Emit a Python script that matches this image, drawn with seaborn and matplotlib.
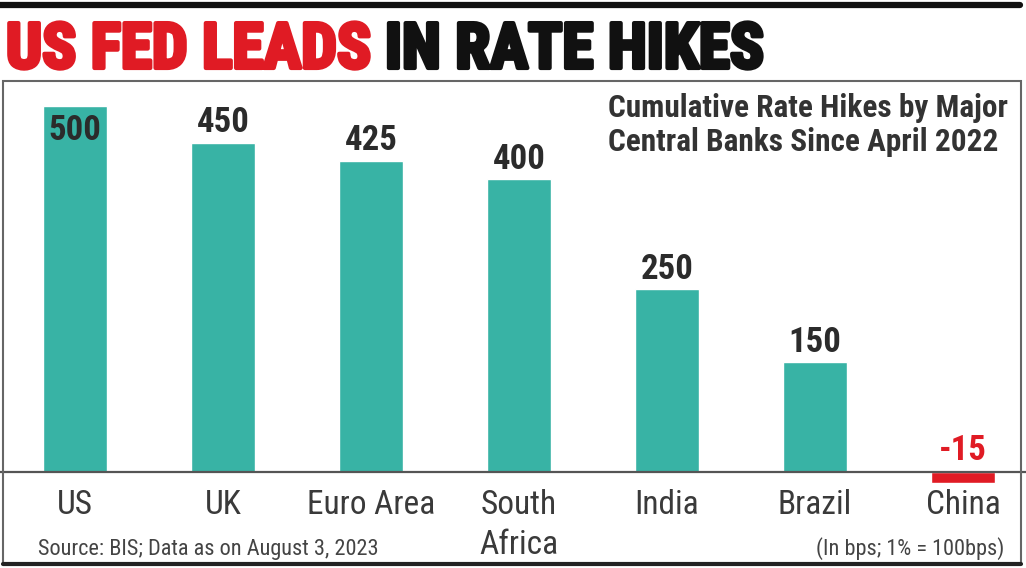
import matplotlib
matplotlib.use("Agg")
import matplotlib.pyplot as plt
import matplotlib.patheffects as pe
import seaborn as sns
import pandas as pd
from matplotlib.patches import Rectangle
from matplotlib.lines import Line2D

# ---- data ----
categories = ["US", "UK", "Euro Area", "South\nAfrica", "India", "Brazil", "China"]
hikes_bps = [500, 450, 425, 400, 250, 150, -15]
value_labels = ["500", "450", "425", "400", "250", "150", "-15"]

title_red = "US FED LEADS"
title_black = "IN RATE HIKES"
subtitle = "Cumulative Rate Hikes by Major\nCentral Banks Since April 2022"
source = "Source: BIS; Data as on August 3, 2023"
unit_note = "(In bps; 1% = 100bps)"

TEAL = "#38b3a5"
RED = "#e01b24"
DARK = "#2b2b2b"

sns.set_theme(style="white")
BODY = ["Roboto Condensed", "IBM Plex Sans Condensed", "DejaVu Sans"]
HEAD = ["Roboto Condensed", "Oswald", "IBM Plex Sans Condensed", "DejaVu Sans"]
plt.rcParams["font.family"] = BODY

W, H = 1026, 568
fig = plt.figure(figsize=(W / 100, H / 100), dpi=100)

frame_top = 81
baseline_px = 472
px_per_unit = 0.732
x0_px, step_px = 75, 148

ax = fig.add_axes([0, 0, 1, 1 - frame_top / H])
df = pd.DataFrame({"cat": categories, "val": hikes_bps})
palette = {c: (RED if v < 0 else TEAL) for c, v in zip(categories, hikes_bps)}
sns.barplot(data=df, x="cat", y="val", hue="cat", palette=palette, legend=False,
            width=0.43, saturation=1, ax=ax)

ax.set_xlim((0 - x0_px) / step_px, (W - x0_px) / step_px)
ax.set_ylim((baseline_px - H) / px_per_unit, (baseline_px - frame_top) / px_per_unit)
ax.set_xlabel("")
ax.set_ylabel("")
ax.set_yticks([])
for s in ["top", "left", "right"]:
    ax.spines[s].set_visible(False)
ax.spines["bottom"].set_position(("data", 0))
ax.spines["bottom"].set_color("#555555")
ax.spines["bottom"].set_linewidth(1.6)
ax.tick_params(axis="x", length=0, pad=12, labelsize=24, labelcolor="#3a3a3a")
for lbl in ax.get_xticklabels():
    lbl.set_verticalalignment("top")
    lbl.set_linespacing(1.35)

for i, (v, t) in enumerate(zip(hikes_bps, value_labels)):
    kw = dict(ha="center", fontsize=25, fontweight="bold", textcoords="offset points")
    if v >= 480:
        ax.annotate(t, (i, v), xytext=(0, -6), va="top", color=DARK, **kw)
    elif v < 0:
        ax.annotate(t, (i, 0), xytext=(0, 9), va="baseline", color=RED, **kw)
    else:
        ax.annotate(t, (i, v), xytext=(0, 7.5), va="baseline", color=DARK, **kw)

# frame and top rule
fig.add_artist(Line2D([0, 1020 / W], [1 - 5 / H, 1 - 5 / H], color="#111111", lw=4.5))
fig.add_artist(Rectangle((3 / W, 4 / H), (1021 - 3) / W, (H - frame_top - 4) / H,
                         fill=False, edgecolor="#666666", lw=1.5))
fig.add_artist(Line2D([3 / W, 1021 / W], [4 / H, 4 / H], color="#222222", lw=3))

# title: fit both cap height and span
fs = 44
base_y = 1 - 68 / H
t1 = fig.text(6 / W, base_y, title_red, color=RED, fontsize=fs, family=HEAD,
              fontweight="bold", va="baseline", ha="left",
              path_effects=[pe.withStroke(linewidth=3, foreground=RED)])
t2 = fig.text(0, base_y, title_black, color="#111111", fontsize=fs, family=HEAD,
              fontweight="bold", va="baseline", ha="left",
              path_effects=[pe.withStroke(linewidth=3, foreground="#111111")])
r = fig.canvas.get_renderer()
GAP = 0.30
for _ in range(4):
    b1 = t1.get_window_extent(r)
    t2.set_x((b1.x1 + GAP * fs) / W)
    b2 = t2.get_window_extent(r)
    span = b2.x1 - b1.x0
    cap = b1.y1 - (base_y * H)
    fs = fs * min(758 / span, 48 / cap)
    t1.set_fontsize(fs)
    t2.set_fontsize(fs)
b1 = t1.get_window_extent(r)
t2.set_x((b1.x1 + GAP * fs) / W)

fig.text(608 / W, 1 - 117 / H, subtitle.split("\n")[0], color="#333333", fontsize=22.5,
         fontweight="bold", va="baseline", ha="left")
fig.text(608 / W, 1 - 151 / H, subtitle.split("\n")[1], color="#333333", fontsize=22.5,
         fontweight="bold", va="baseline", ha="left")
fig.text(38 / W, 1 - 555 / H, source, color="#444444", fontsize=16, va="baseline", ha="left")
fig.text(1004 / W, 1 - 555 / H, unit_note, color="#444444", fontsize=16, va="baseline", ha="right")

fig.savefig("out.png", dpi=100)
